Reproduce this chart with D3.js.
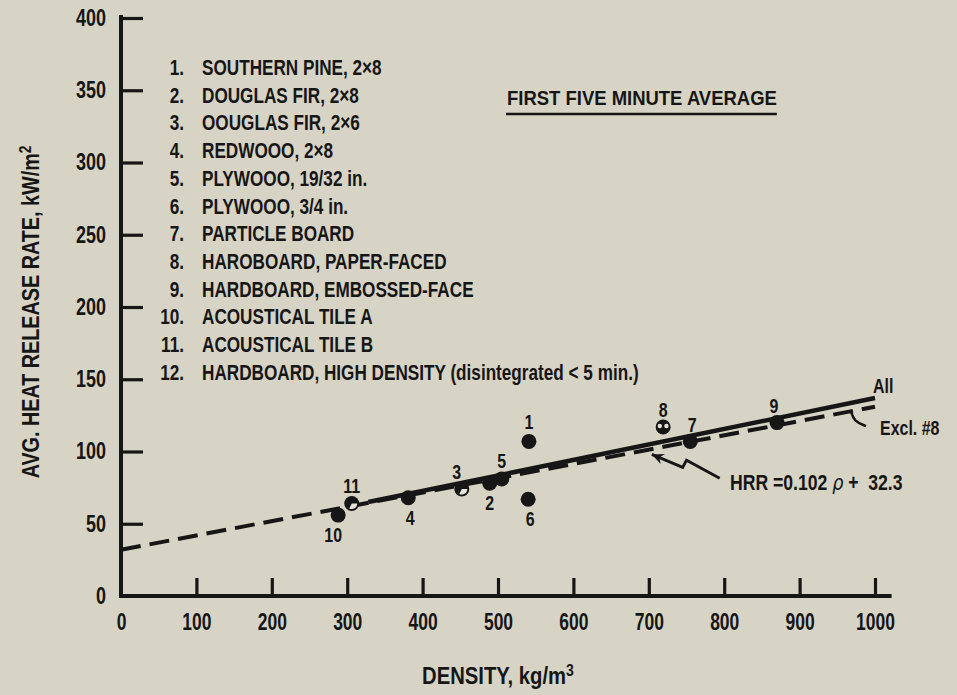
<!DOCTYPE html>
<html>
<head>
<meta charset="utf-8">
<script src="https://cdn.jsdelivr.net/npm/d3@7"></script>
<style>
  body { margin: 0; background: #d7d3c5; }
  svg { display: block; }
  text { font-family: "Liberation Sans", Arial, sans-serif; font-weight: bold; fill: #161616; }
</style>
</head>
<body>
<div id="chart"></div>
<script>
const width = 957, height = 695;
const ink = "#161616", paper = "#e6e3d8";

// materials (legend) and measured points
const materials = [
  "SOUTHERN PINE, 2×8",
  "DOUGLAS FIR, 2×8",
  "OOUGLAS FIR, 2×6",
  "REDWOOO, 2×8",
  "PLYWOOO, 19/32 in.",
  "PLYWOOO, 3/4 in.",
  "PARTICLE BOARD",
  "HAROBOARD, PAPER-FACED",
  "HARDBOARD, EMBOSSED-FACE",
  "ACOUSTICAL TILE A",
  "ACOUSTICAL TILE B",
  "HARDBOARD, HIGH DENSITY (disintegrated < 5 min.)",
];
const pointIds = [1, 2, 3, 4, 5, 6, 7, 8, 9, 10, 11];
const density = [541, 489, 452, 381, 505, 540, 755, 719, 870, 288, 306];
const hrr = [107, 78, 74, 68, 81, 67, 107, 117, 120, 56, 64];
const markerKind = ["solid", "solid", "split", "solid", "solid", "solid", "solid", "ring", "solid", "solid", "split"];
// label placement relative to each dot (px)
const labelOffset = [[0, -20], [0, 19], [-5, -18], [2, 20], [0, -18], [2, 19], [2, -17], [0, -17], [-3, -17], [-5, 19], [0, -18]];

// fitted lines, read at their ends
const fitAll = [[328, 65], [1000, 137]];
const fitExcl8 = [[0, 32], [1000, 131]];

const xTicks = [0, 100, 200, 300, 400, 500, 600, 700, 800, 900, 1000];
const yTicks = [0, 50, 100, 150, 200, 250, 300, 350, 400];

const x = d3.scaleLinear().domain([0, 1000]).range([121, 875]);
const y = d3.scaleLinear().domain([0, 400]).range([596, 18]);

const svg = d3.select("#chart").append("svg")
  .attr("width", width).attr("height", height);

// condensed bold text, like the original lettering
function label(parent, tx, ty, str, size, sx, anchor) {
  return parent.append("text")
    .attr("transform", `translate(${tx},${ty}) scale(${sx},1)`)
    .attr("text-anchor", anchor || "start")
    .style("font-size", size + "px")
    .text(str);
}

// axes
const yAxis = svg.append("g")
  .attr("transform", `translate(${x(0)},0)`)
  .call(d3.axisLeft(y).tickValues(yTicks).tickSize(-22).tickSizeOuter(0).tickPadding(15));
const xAxis = svg.append("g")
  .attr("transform", `translate(0,${y(0)})`)
  .call(d3.axisBottom(x).tickValues(xTicks).tickFormat(d3.format("d"))
    .tickSize(-18).tickSizeOuter(0).tickPadding(18));

[yAxis, xAxis].forEach((g) => {
  g.select(".domain").remove();
  g.selectAll(".tick line").attr("stroke", ink).attr("stroke-width", 3.2);
  g.selectAll(".tick text").style("font-size", "23px").attr("fill", ink);
});
yAxis.selectAll(".tick text").attr("x", -15 / 0.78).attr("transform", "scale(0.78,1)");
xAxis.selectAll(".tick text").attr("transform", "scale(0.76,1)");
xAxis.selectAll(".tick").filter((d) => d === 0).select("line").remove();
yAxis.selectAll(".tick").filter((d) => d === 0).select("line").remove();

svg.append("line")
  .attr("x1", x(0)).attr("x2", x(0)).attr("y1", y(400) - 3).attr("y2", y(0) + 2)
  .attr("stroke", ink).attr("stroke-width", 4);
svg.append("line")
  .attr("x1", x(0) - 2).attr("x2", x(1022)).attr("y1", y(0)).attr("y2", y(0))
  .attr("stroke", ink).attr("stroke-width", 4);

// axis titles
const xt = label(svg, x(500), 684, "DENSITY, kg/m", 23, 0.88, "middle");
xt.append("tspan").attr("dy", -8).style("font-size", "16px").text("3");
const yt = svg.append("text")
  .attr("transform", "translate(39,312) rotate(-90) scale(0.86,1)")
  .attr("text-anchor", "middle").style("font-size", "23px")
  .text("AVG. HEAT RELEASE RATE, kW/m");
yt.append("tspan").attr("dy", -8).style("font-size", "16px").text("2");

// legend
const legend = svg.append("g");
materials.forEach((m, i) => {
  const yy = 75 + i * 27.7;
  label(legend, 184, yy, i + 1 + ".", 22, 0.78, "end");
  label(legend, 202, yy, m, 22, 0.78);
});

// title
const title = label(svg, 507, 105, "FIRST FIVE MINUTE AVERAGE", 21, 0.88);
const tw = title.node().getComputedTextLength() * 0.88;
svg.append("line")
  .attr("x1", 506).attr("x2", 507 + tw).attr("y1", 114).attr("y2", 114)
  .attr("stroke", ink).attr("stroke-width", 2.5);

// fitted lines
const line = d3.line().x((d) => x(d[0])).y((d) => y(d[1]));
svg.append("path").datum(fitExcl8).attr("d", line)
  .attr("fill", "none").attr("stroke", ink)
  .attr("stroke-width", 4).attr("stroke-dasharray", "20,9");
svg.append("path").datum(fitAll).attr("d", line)
  .attr("fill", "none").attr("stroke", ink).attr("stroke-width", 4.5);

// points
const pts = pointIds.map((id, i) => ({ id, rho: density[i], v: hrr[i], kind: markerKind[i], off: labelOffset[i] }));
const g = svg.selectAll(".pt").data(pts).enter().append("g")
  .attr("class", "pt")
  .attr("transform", (d) => `translate(${x(d.rho)},${y(d.v)})`);
g.append("circle").attr("r", 7.5).attr("fill", ink);
g.filter((d) => d.kind === "split").append("path")
  .attr("d", d3.arc().innerRadius(0).outerRadius(5.5).startAngle(Math.PI / 2).endAngle(Math.PI * 1.15))
  .attr("fill", paper);
g.filter((d) => d.kind === "ring").selectAll(".spot").data([-3.3, 3.3]).enter()
  .append("circle").attr("cx", (d) => d).attr("cy", -1).attr("r", 2.2).attr("fill", paper);
g.each(function (d) {
  label(d3.select(this), d.off[0], d.off[1] + 7.5, d.id, 21, 0.76, "middle");
});

// annotations
label(svg, 873, 393, "All", 21, 0.76);
label(svg, 880, 435, "Excl. #8", 21, 0.76);
const hook = [[968, 128], [972, 121], [988, 117.6]];
svg.append("path").datum(hook).attr("d", d3.line().curve(d3.curveBasis).x((d) => x(d[0])).y((d) => y(d[1])))
  .attr("fill", "none").attr("stroke", ink).attr("stroke-width", 2.5);

const eq = svg.append("text")
  .attr("transform", "translate(730,490) scale(0.8,1)").style("font-size", "22px");
eq.append("tspan").text("HRR =0.102 ");
eq.append("tspan").style("font-family", "DejaVu Sans").style("font-style", "italic").style("font-weight", "normal").text("ρ");
eq.append("tspan").attr("xml:space", "preserve").text(" +  32.3");

const arrowPts = [[794, 81.5], [750, 94], [745, 89], [704, 98]];
svg.append("path").datum(arrowPts).attr("d", line)
  .attr("fill", "none").attr("stroke", ink).attr("stroke-width", 2.8);
const tip = arrowPts[3], prev = arrowPts[2];
const ang = Math.atan2(y(tip[1]) - y(prev[1]), x(tip[0]) - x(prev[0]));
svg.append("path")
  .attr("d", "M0,0 L-12,-5.5 L-8,0 L-12,5.5 Z")
  .attr("transform", `translate(${x(tip[0])},${y(tip[1])}) rotate(${(ang * 180) / Math.PI})`)
  .attr("fill", ink);
</script>
</body>
</html>
